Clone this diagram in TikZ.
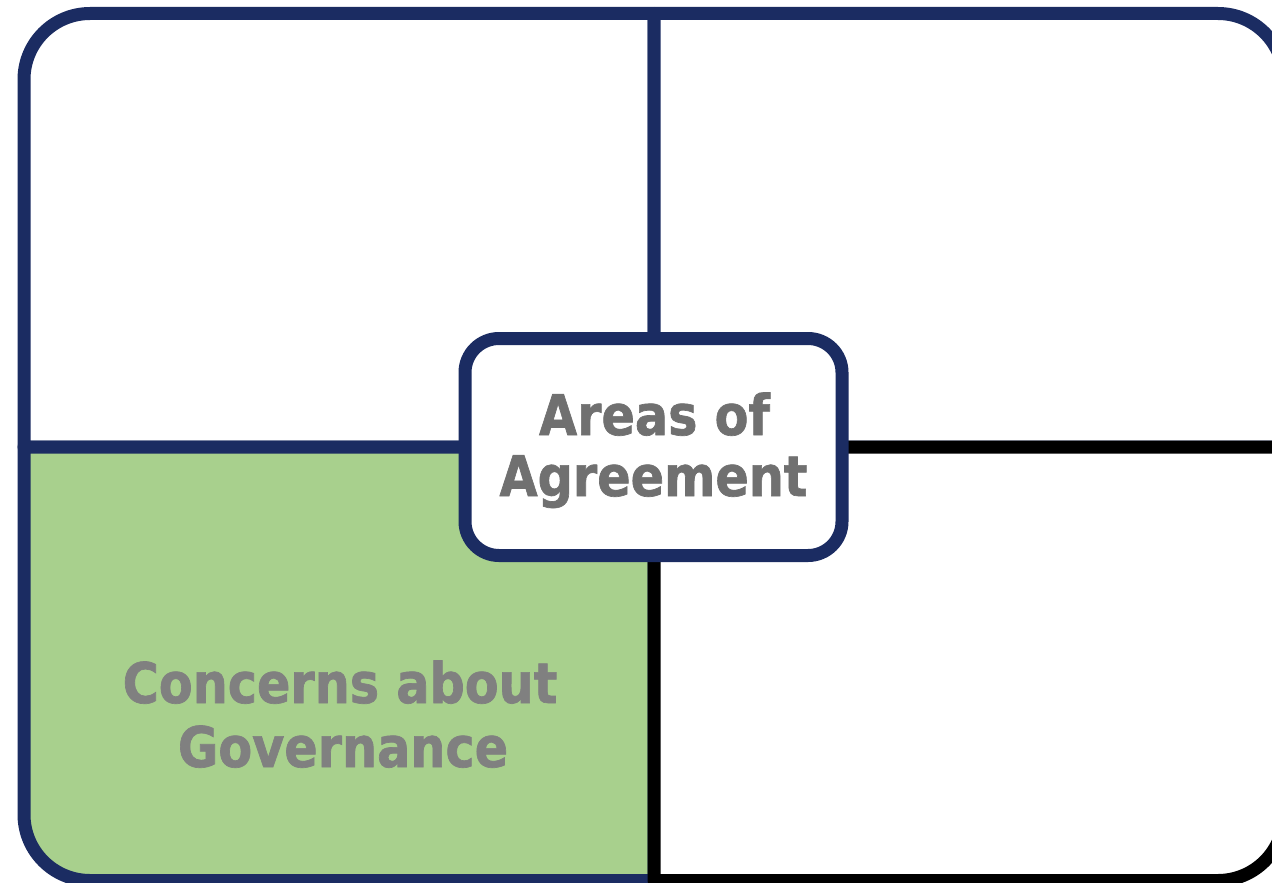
\documentclass[tikz,border=0pt]{standalone}
\usepackage{fontspec}
\newfontfamily\lblfont{DejaVu Sans}[FakeStretch=0.88,FakeBold=1.2]
\definecolor{navy}{RGB}{27,44,98}
\definecolor{leaf}{RGB}{168,208,141}
\definecolor{txtA}{RGB}{112,112,112}
\definecolor{txtB}{RGB}{128,128,128}
\tikzset{
  quad/.style={line width=13pt, line join=round},
  lbl/.style={inner sep=0pt, anchor=base, font=\lblfont\bfseries\fontsize{56}{61}\selectfont},
}
\begin{document}
\begin{tikzpicture}[x=1pt,y=-1pt]
\useasboundingbox (0,0) rectangle (1272,883);
\clip (0,0) rectangle (1272,883);
\fill[white] (0,0) rectangle (1272,883);
% top-left
\draw[quad, draw=navy, fill=white] (654,447) -- (24,447) -- (24,79.5) arc[start angle=180,end angle=90,radius=66pt] -- (654,13.5) -- cycle;
% top-right
\draw[quad, draw=navy, fill=white] (654,13.5) -- (1218,13.5) arc[start angle=90,end angle=0,radius=66pt] -- (1284,447) -- (654,447) -- cycle;
% bottom-left
\draw[quad, draw=navy, fill=leaf] (24,447) -- (24,814.5) arc[start angle=180,end angle=270,radius=66pt] -- (654,880.5) -- (654,447) -- cycle;
% bottom-right
\draw[quad, draw=black, fill=white] (654,447) -- (1284,447) -- (1284,814.5) arc[start angle=0,end angle=-90,radius=66pt] -- (654,880.5) -- cycle;
% center box
\node[draw=navy, fill=white, line width=13pt, rounded corners=34pt, minimum width=377pt, minimum height=217pt, inner sep=0pt] (center) at (653.5,447) {};
\node[lbl, text=txtA] (areas) at (654.5,435) {Areas of};
\node[lbl, text=txtA] (agree) at (653.5,496) {Agreement};
\node[lbl, text=txtB] (concerns) at (340,703) {Concerns about};
\node[lbl, text=txtB] (gov) at (343,767) {Governance};
\end{tikzpicture}
\end{document}
